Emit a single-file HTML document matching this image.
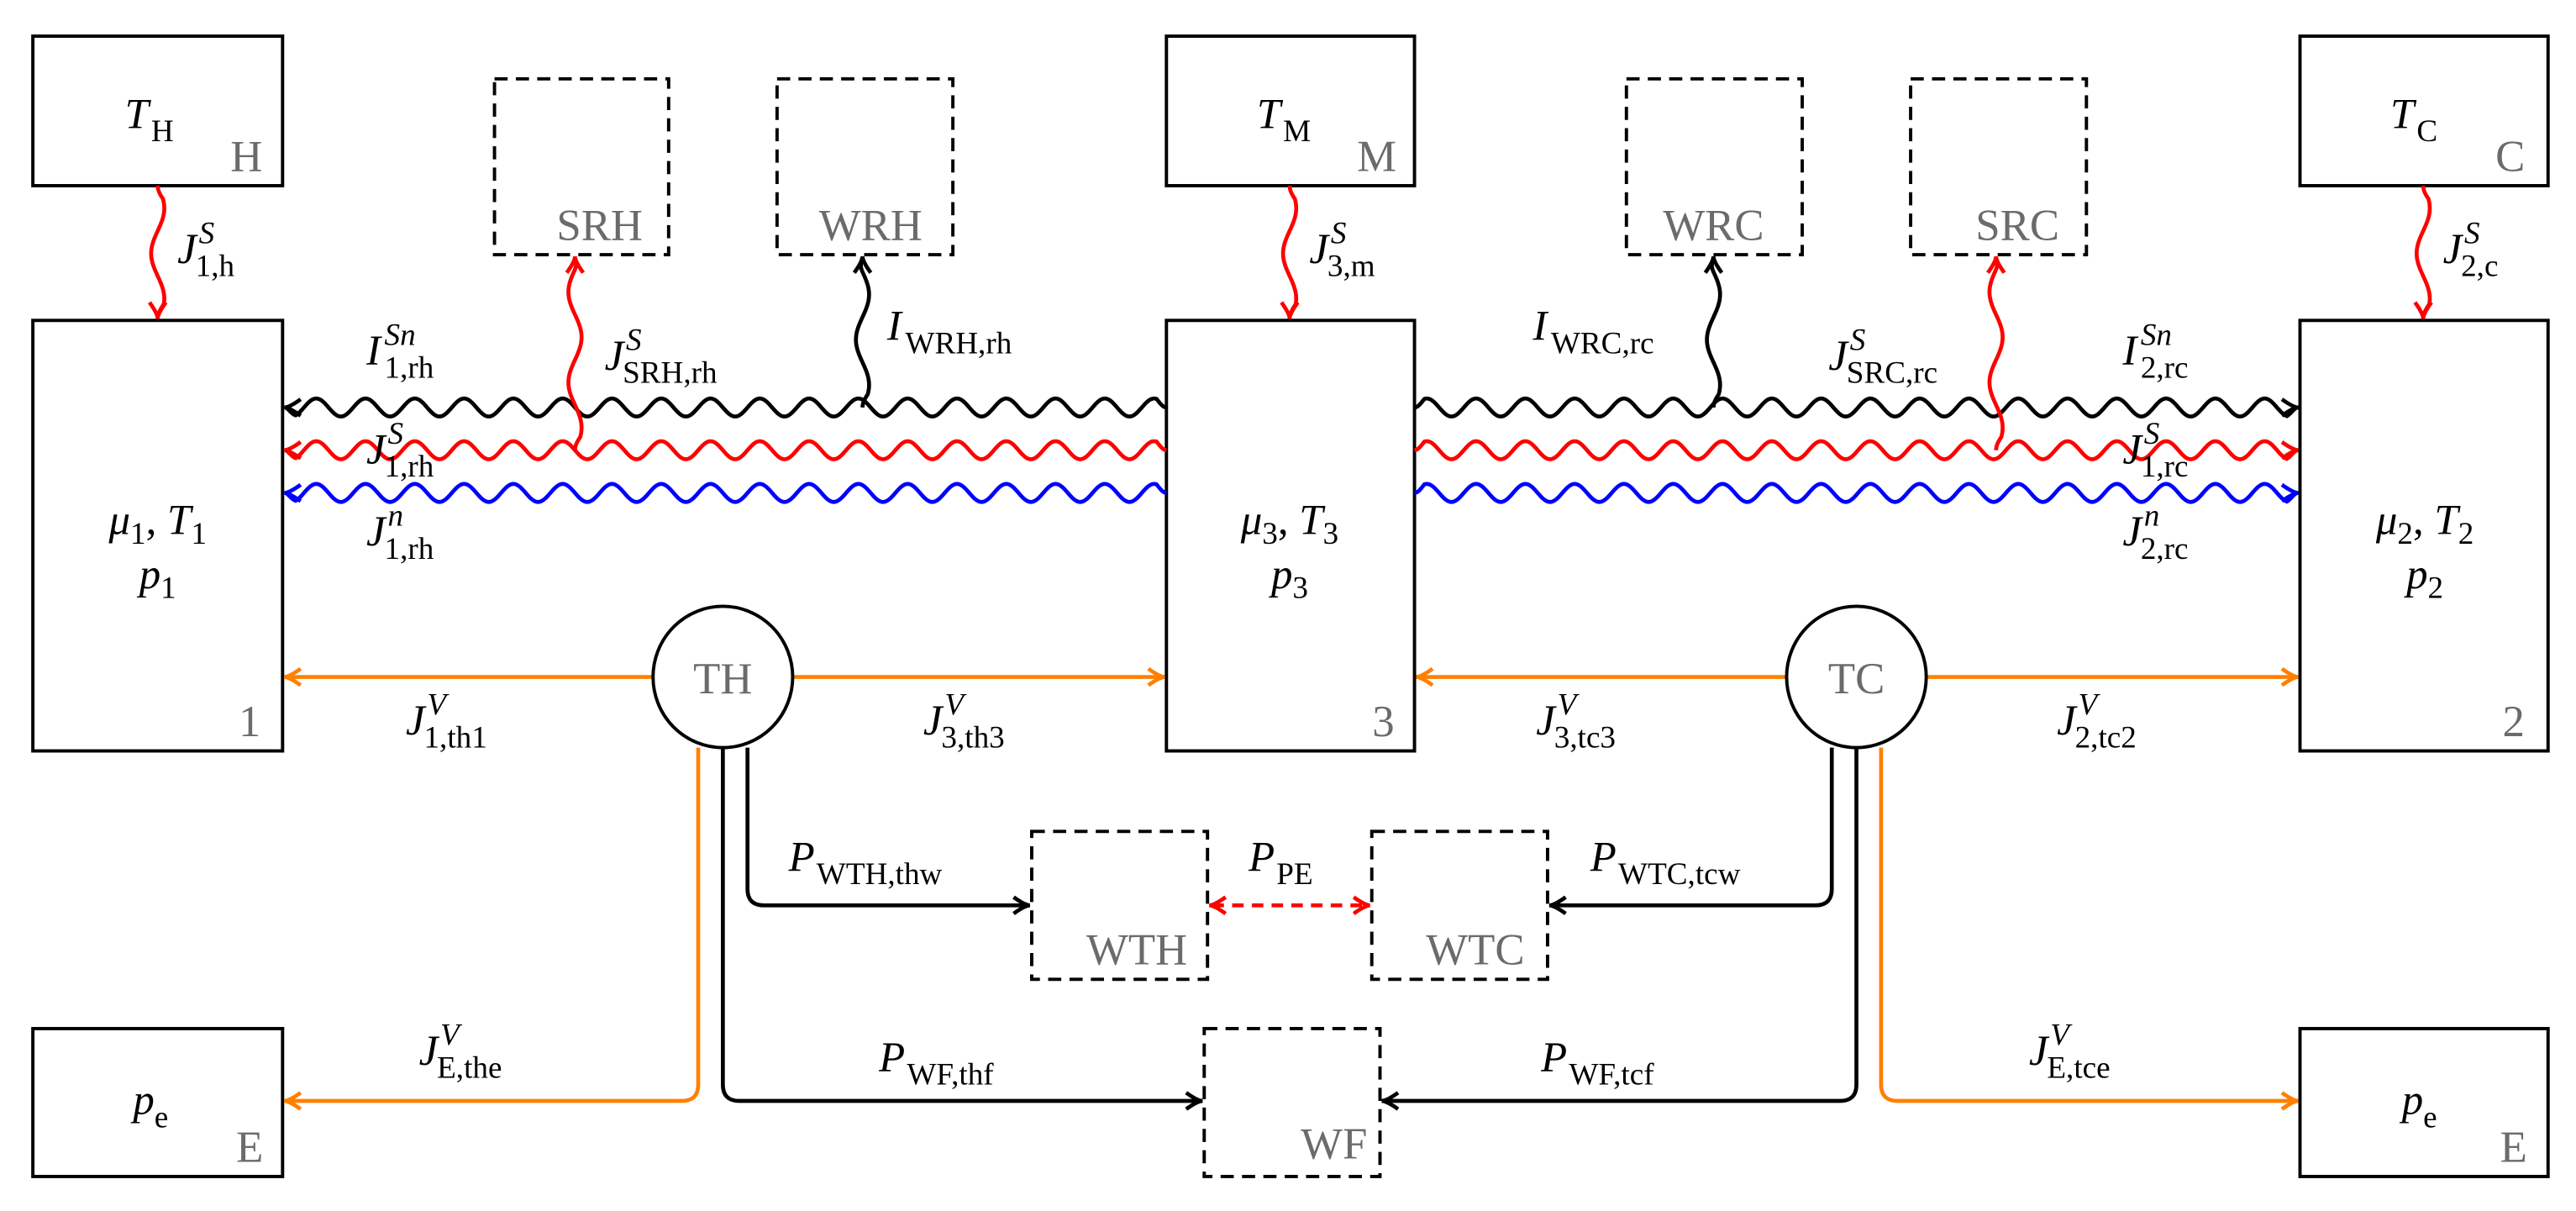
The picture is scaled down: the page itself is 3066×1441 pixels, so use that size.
<!DOCTYPE html>
<html><head><meta charset="utf-8">
<style>
html,body{margin:0;padding:0;background:#fff;}
svg{display:block;}
.m{font-style:italic;}
.g{fill:#6b6b6b;font-size:27px;}
</style></head>
<body>
<svg id="s" width="3066" height="1441" viewBox="0 0 1568 737" preserveAspectRatio="none" xmlns="http://www.w3.org/2000/svg" font-family="'Liberation Serif', 'DejaVu Serif', serif">
<g fill="none" stroke="#000" stroke-width="2">
<rect x="20" y="22" width="152" height="91"/>
<rect x="710" y="22" width="151" height="91"/>
<rect x="1400" y="22" width="151" height="91"/>
<rect x="20" y="195" width="152" height="262"/>
<rect x="710" y="195" width="151" height="262"/>
<rect x="1400" y="195" width="151" height="262"/>
<rect x="20" y="626" width="152" height="90"/>
<rect x="1400" y="626" width="151" height="90"/>
<g stroke-dasharray="8,5">
<rect x="301" y="48" width="106" height="107"/>
<rect x="473" y="48" width="107" height="107"/>
<rect x="990" y="48" width="107" height="107"/>
<rect x="1163" y="48" width="107" height="107"/>
<rect x="628" y="506" width="107" height="90"/>
<rect x="835" y="506" width="107" height="90"/>
<rect x="733" y="626" width="107" height="90"/>
</g>
</g>
<g id="lines" fill="none" stroke-width="2.4"></g>
<g fill="#fff" stroke="#000" stroke-width="2">
<ellipse cx="440" cy="412" rx="42.5" ry="43"/>
<ellipse cx="1130" cy="412" rx="42.5" ry="43"/>
</g>
<g class="g" text-anchor="middle">
<text x="440" y="422">TH</text>
<text x="1130" y="422">TC</text>
<text x="150" y="104">H</text>
<text x="838" y="104">M</text>
<text x="1528" y="104">C</text>
<text x="365" y="146">SRH</text>
<text x="530" y="146">WRH</text>
<text x="1043" y="146">WRC</text>
<text x="1228" y="146">SRC</text>
<text x="152" y="448">1</text>
<text x="842" y="448">3</text>
<text x="1530" y="448">2</text>
<text x="692" y="587">WTH</text>
<text x="898" y="587">WTC</text>
<text x="812" y="705">WF</text>
<text x="152" y="707">E</text>
<text x="1530" y="707">E</text>
</g>
<g id="labels" font-size="26"></g>
</svg>
<script>
var NS="http://www.w3.org/2000/svg";
var L=document.getElementById('lines'),T=document.getElementById('labels');
function el(tag,a,p){var e=document.createElementNS(NS,tag);for(var k in a)e.setAttribute(k,a[k]);(p||L).appendChild(e);return e;}
function path(d,c,extra){var a={d:d,stroke:c};for(var k in extra)a[k]=extra[k];return el('path',a);}
function arrow(x,y,dx,dy,c){var n=Math.hypot(dx,dy);dx/=n;dy/=n;var px=-dy,py=dx,l=10,w=5;
 path('M'+(x-dx*l+px*w)+','+(y-dy*l+py*w)+' Q'+(x-dx*3)+','+(y-dy*3)+' '+x+','+y+' Q'+(x-dx*3)+','+(y-dy*3)+' '+(x-dx*l-px*w)+','+(y-dy*l-py*w),c);}
function waveH(x1,x2,y,c,per,amp){var d='M'+x1+','+y,n=Math.round(Math.abs(x2-x1));var s=x2>x1?1:-1;
 for(var i=0;i<=n;i++){var x=x1+s*i;var env=Math.min(1,i/6,(n-i)/6);d+=' L'+x+','+(y+amp*env*Math.sin(2*Math.PI*i/per));}
 path(d,c);}
function waveV(x,y1,y2,c,per,amp){var d='M'+x+','+y1,n=Math.round(Math.abs(y2-y1));var s=y2>y1?1:-1;
 for(var i=0;i<=n;i++){var y=y1+s*i;var env=Math.min(1,i/8,(n-i)/8);d+=' L'+(x+amp*env*Math.sin(2*Math.PI*i/per))+','+y;}
 path(d,c);}
var R='#ff0000',B='#0000ff',K='#000',O='#ff8000';
[[248,K],[274,R],[300,B]].forEach(function(a){
 waveH(710,174,a[0],a[1],30,-5.5);arrow(173,a[0],-1,0,a[1]);
 waveH(861,1398,a[0],a[1],30,-5.5);arrow(1399,a[0],1,0,a[1]);});
waveV(96,113,193,R,55,4);arrow(96,194,0,1,R);
waveV(785,113,193,R,55,4);arrow(785,194,0,1,R);
waveV(1475,113,193,R,55,4);arrow(1475,194,0,1,R);
waveV(350,274,157,R,55,4);arrow(350,156,0,-1,R);
waveV(525,248,157,K,55,4);arrow(525,156,0,-1,K);
waveV(1043,248,157,K,55,4);arrow(1043,156,0,-1,K);
waveV(1215,274,157,R,55,4);arrow(1215,156,0,-1,R);
path('M173,412 L397,412',O);arrow(173,412,-1,0,O);
path('M483,412 L709,412',O);arrow(709,412,1,0,O);
path('M862,412 L1087,412',O);arrow(862,412,-1,0,O);
path('M1173,412 L1399,412',O);arrow(1399,412,1,0,O);
path('M455,455 L455,541 Q455,551 465,551 L627,551',K);arrow(627,551,1,0,K);
path('M440,455 L440,660 Q440,670 450,670 L732,670',K);arrow(732,670,1,0,K);
path('M425,455 L425,660 Q425,670 415,670 L173,670',O);arrow(173,670,-1,0,O);
path('M1115,455 L1115,541 Q1115,551 1105,551 L943,551',K);arrow(943,551,-1,0,K);
path('M1130,455 L1130,660 Q1130,670 1120,670 L841,670',K);arrow(841,670,-1,0,K);
path('M1145,455 L1145,660 Q1145,670 1155,670 L1399,670',O);arrow(1399,670,1,0,O);
path('M738,551 L832,551',R,{'stroke-dasharray':'7,5'});arrow(736,551,-1,0,R);arrow(834,551,1,0,R);
var W={J:13,I:11,P:17,T:16,p:13};
function lab(x,y,m,sup,sub){
 el('text',{x:x,y:y,'class':'m'},T).textContent=m;
 var w=W[m]||14;
 if(sup){el('text',{x:x+w,y:y-12,'class':'m','font-size':'19'},T).textContent=sup;}
 if(sub){el('text',{x:x+w-(m=='J'?2:0),y:y+8,'font-size':'19'},T).textContent=sub;}
}
lab(76,78,'T','','H');lab(765,78,'T','','M');lab(1455,78,'T','','C');
lab(108,160,'J','S','1,h');lab(797,160,'J','S','3,m');lab(1487,160,'J','S','2,c');
lab(223,222,'I','Sn','1,rh');lab(223,282,'J','S','1,rh');lab(223,332,'J','n','1,rh');
lab(1292,222,'I','Sn','2,rc');lab(1292,282,'J','S','1,rc');lab(1292,332,'J','n','2,rc');
lab(368,225,'J','S','SRH,rh');lab(540,207,'I','','WRH,rh');
lab(933,207,'I','','WRC,rc');lab(1113,225,'J','S','SRC,rc');
lab(247,447,'J','V','1,th1');lab(562,447,'J','V','3,th3');lab(935,447,'J','V','3,tc3');lab(1252,447,'J','V','2,tc2');
lab(480,530,'P','','WTH,thw');lab(760,530,'P','','PE');lab(968,530,'P','','WTC,tcw');
lab(535,652,'P','','WF,thf');lab(938,652,'P','','WF,tcf');
lab(255,648,'J','V','E,the');lab(1235,648,'J','V','E,tce');
lab(81,678,'p','','e');lab(1462,678,'p','','e');
function muT(cx,n){var e=el('text',{x:cx,y:325,'text-anchor':'middle'},T);
 e.innerHTML='<tspan font-style="italic">μ</tspan><tspan font-size="19" dy="6">'+n+'</tspan><tspan dy="-6">, </tspan><tspan font-style="italic">T</tspan><tspan font-size="19" dy="6">'+n+'</tspan>';
 var f=el('text',{x:cx,y:358,'text-anchor':'middle'},T);
 f.innerHTML='<tspan font-style="italic">p</tspan><tspan font-size="19" dy="6">'+n+'</tspan>';}
muT(96,'1');muT(785,'3');muT(1476,'2');
</script>
</body></html>
